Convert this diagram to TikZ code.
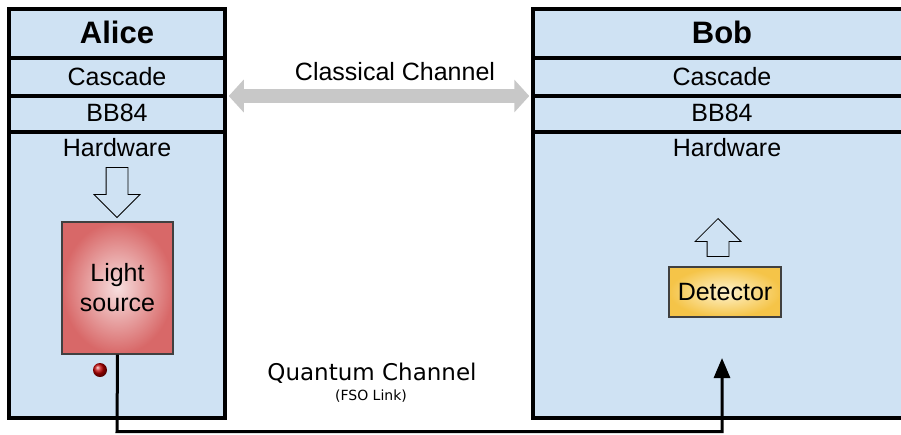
\documentclass[tikz,border=0pt]{standalone}
\usepackage{fontspec}
\setmainfont{Liberation Sans}
\newfontfamily\dejavu{DejaVu Sans}
\usetikzlibrary{arrows.meta,shapes.arrows,positioning}
\definecolor{panelblue}{RGB}{207,226,243}
\definecolor{lightred}{RGB}{216,104,104}
\definecolor{lightpink}{RGB}{247,222,222}
\definecolor{detyellow}{RGB}{245,196,72}
\definecolor{detpale}{RGB}{254,243,206}
\definecolor{chgray}{RGB}{200,200,200}
\tikzset{
  panel/.style={draw, line width=3.5pt, fill=panelblue, inner sep=0pt},
  sepline/.style={line width=3.5pt},
  layer/.style={font=\fontsize{25}{28}\selectfont},
  headtext/.style={font=\fontsize{31}{34}\selectfont\bfseries},
  hollow/.style={single arrow, draw, line width=0.8pt, inner sep=10.5pt,
    single arrow head extend=12pt},
  device/.style={draw=black!75, line width=1.2pt, inner sep=0pt, align=center,
    font=\fontsize{25}{30}\selectfont, shading=radial},
}
\begin{document}
\begin{tikzpicture}[x=1pt,y=-1pt]
  \clip (0,0) rectangle (901,434);
  \fill[white] (0,0) rectangle (901,434);
  % the two stations
  \node[panel, minimum width=216pt, minimum height=409pt] (alice) at (117,213.5) {};
  \node[panel, minimum width=378pt, minimum height=409pt] (bob) at (722,213.5) {};
  \foreach \yy in {58,96,132} {
    \draw[sepline] (alice.west |- 0,\yy) -- (alice.east |- 0,\yy);
    \draw[sepline] (bob.west |- 0,\yy) -- (bob.east |- 0,\yy);
  }
  \node[headtext] (aname) at (117,32) {Alice};
  \node[headtext] (bname) at (722,32) {Bob};
  \node[layer] (acascade) at (117,77) {Cascade};
  \node[layer] (bcascade) at (722,77) {Cascade};
  \node[layer] (abb) at (117,113) {BB84};
  \node[layer] (bbb) at (722,113) {BB84};
  \node[layer] (ahw) at (117,148) {Hardware};
  \node[layer] (bhw) at (727,148) {Hardware};
  % hardware
  \node[hollow, minimum height=50pt, shape border rotate=270] (adown) at (117,187) {};
  \node[device, minimum width=111pt, minimum height=132pt,
    inner color=lightpink, outer color=lightred] (light) at (117.5,288) {Light\\source};
  \shade[ball color=red!75!black] (100,370) circle (7);
  \node[hollow, minimum height=38pt, shape border rotate=90] (bup) at (718,243) {};
  \node[device, minimum width=112pt, minimum height=50pt,
    inner color=detpale, outer color=detyellow] (det) at (725,292) {Detector};
  % channels
  \draw[chgray, line width=14pt, shorten <=2pt, shorten >=2pt,
    {Triangle[length=15pt,width=32pt]}-{Triangle[length=15pt,width=32pt]}]
    (alice.east |- 0,96) -- (bob.west |- 0,96);
  \node[layer] (classical) at (395,72) {Classical Channel};
  \coordinate (qend) at (722,358);
  \draw[line width=3pt, -{Triangle[length=20pt,width=16pt]}]
    (light.south) -- (117,431.5) -| (qend);
  \node[font=\dejavu\fontsize{23}{26}\selectfont] (quantum) at (372,373) {Quantum Channel};
  \node[font=\dejavu\fontsize{14}{16}\selectfont] (fso) at (371,396) {(FSO Link)};
\end{tikzpicture}
\end{document}
